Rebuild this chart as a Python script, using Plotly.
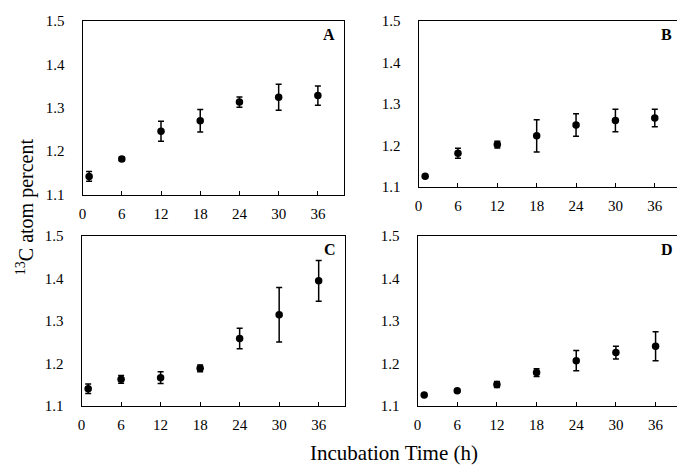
import plotly.graph_objects as go

hours = [1, 6, 12, 18, 24, 30, 36]

a_vals = [1.142, 1.182, 1.246, 1.270, 1.313, 1.324, 1.328]
a_err = [0.011, 0.004, 0.023, 0.026, 0.012, 0.030, 0.022]

b_vals = [1.126, 1.181, 1.202, 1.223, 1.249, 1.260, 1.266]
b_err = [0.0, 0.012, 0.008, 0.039, 0.027, 0.027, 0.021]

c_vals = [1.141, 1.163, 1.167, 1.189, 1.259, 1.315, 1.395]
c_err = [0.011, 0.009, 0.014, 0.008, 0.024, 0.064, 0.048]

d_vals = [1.126, 1.136, 1.151, 1.179, 1.207, 1.226, 1.241]
d_err = [0.0, 0.0, 0.007, 0.009, 0.024, 0.015, 0.034]

panel_labels = ["A", "B", "C", "D"]
x_ticks = [0, 6, 12, 18, 24, 30, 36]
y_ticks = [1.1, 1.2, 1.3, 1.4, 1.5]

# page body has an 8px margin, so the figure is made that much smaller
OFF = 8
W, H = 685 - OFF, 474 - OFF
FONT = "Liberation Serif"


def px(x):
    return (x - OFF) / W


def py(y):
    return 1 - (y - OFF) / H


# plot-area boxes in screen pixels: left, right, top, bottom
boxes = [(79, 342, 13, 193), (417, 681, 13, 185), (78, 343, 236, 412), (416, 682, 236, 412)]
series = [(a_vals, a_err), (b_vals, b_err), (c_vals, c_err), (d_vals, d_err)]

fig = go.Figure()
layout = dict(
    width=W, height=H, margin=dict(l=0, r=0, t=0, b=0),
    paper_bgcolor="white", plot_bgcolor="white", showlegend=False,
    font=dict(family=FONT, color="black", size=15),
)
annotations = []
for i, ((l, r, t, b), (vals, errs)) in enumerate(zip(boxes, series)):
    n = "" if i == 0 else str(i + 1)
    fig.add_trace(go.Scatter(
        x=hours, y=vals, mode="markers",
        marker=dict(color="black", size=7.5),
        error_y=dict(type="data", array=errs, visible=True, color="black", thickness=1.5, width=3),
        xaxis="x" + n, yaxis="y" + n,
    ))
    layout["xaxis" + n] = dict(
        domain=[px(l), px(r)], range=[0, 40], tickvals=x_ticks, ticks="inside", ticklen=4,
        tickcolor="black", showline=True, linecolor="black", linewidth=1.2, mirror=True,
        showgrid=False, zeroline=False, anchor="y" + n, tickfont=dict(size=15, family=FONT),
        ticklabelstandoff=5,
    )
    layout["yaxis" + n] = dict(
        domain=[py(b), py(t)], range=[1.1, 1.5], tickvals=y_ticks, tickformat=".1f",
        ticks="", showline=True, linecolor="black", linewidth=1.2, mirror=True,
        showgrid=False, zeroline=False, anchor="x" + n, tickfont=dict(size=15, family=FONT),
        ticklabelstandoff=14,
    )
    annotations.append(dict(
        text="<b>" + panel_labels[i] + "</b>", xref="paper", yref="paper",
        x=px(r - 7), y=py(t + 14), xanchor="right", yanchor="middle",
        showarrow=False, font=dict(size=16, family=FONT),
    ))

annotations.append(dict(
    text="Incubation Time (h)", xref="paper", yref="paper", x=px(392), y=py(461),
    xanchor="center", yanchor="middle", showarrow=False, font=dict(size=21, family=FONT),
))
annotations.append(dict(
    text="<sup>13</sup>C atom percent", xref="paper", yref="paper", x=px(21), y=py(205),
    xanchor="center", yanchor="middle", textangle=-90, showarrow=False, font=dict(size=20, family=FONT),
))
layout["annotations"] = annotations
fig.update_layout(**layout)
fig.write_html("out.html")
